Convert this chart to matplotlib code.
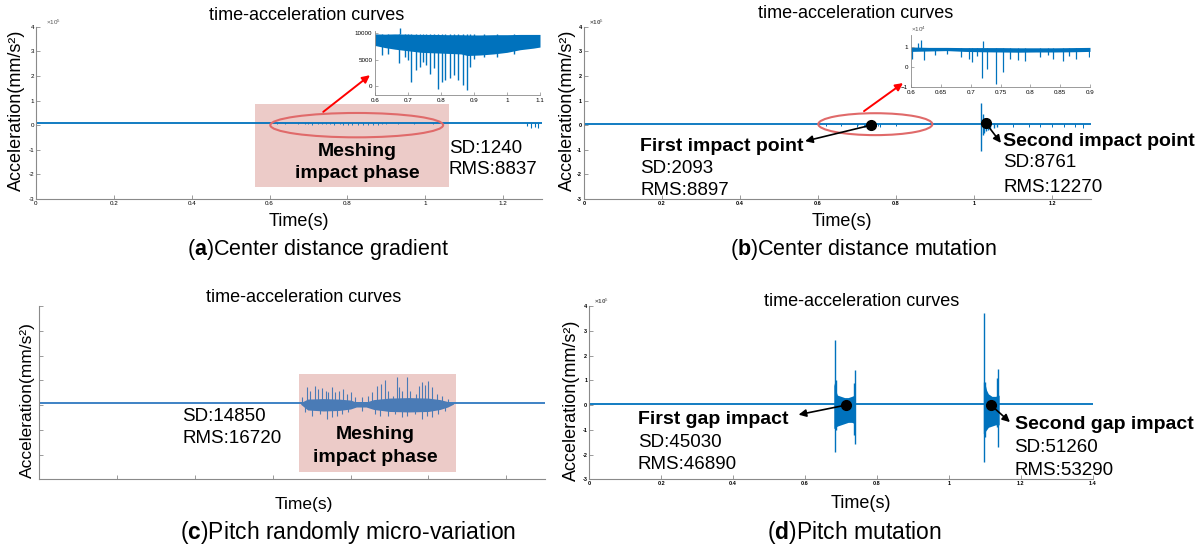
import matplotlib
matplotlib.use('Agg')
import matplotlib.pyplot as plt
from matplotlib.patches import Ellipse, Rectangle

plt.rcParams['font.family'] = ['Liberation Sans', 'DejaVu Sans']
plt.rcParams['mathtext.fontset'] = 'custom'
plt.rcParams['mathtext.rm'] = 'Liberation Sans'
plt.rcParams['mathtext.bf'] = 'Liberation Sans:bold'

# ---- data ----
TITLE = 'time-acceleration curves'
YLABEL = 'Acceleration(mm/s²)'
XLABEL = 'Time(s)'
Y_TICKS = [-3, -2, -1, 0, 1, 2, 3, 4]   # x10^5
X_TICKS = [0, 0.2, 0.4, 0.6, 0.8, 1, 1.2]
X_TICKS_D = [0, 0.2, 0.4, 0.6, 0.8, 1, 1.2, 1.4]

# (a) centre distance gradient, main trace level (x10^5)
A_LEVEL = 0.09
A_DIP_T = [1.262, 1.272, 1.281, 1.29]
A_DIP_V = [-0.05, -0.13, -0.08, -0.11]
# (a) inset, mm/s^2
A_IN_T = [0.60, 0.63, 0.66, 0.70, 0.74, 0.78, 0.82, 0.86, 0.88, 0.92, 0.96, 1.00, 1.04, 1.08, 1.10]
A_IN_HI = [9900, 9850, 9900, 9850, 9800, 9800, 9750, 9750, 9700, 9700, 9750, 9750, 9800, 9800, 9800]
A_IN_LO = [7700, 7300, 7000, 6700, 6400, 6300, 6200, 6100, 5800, 5900, 6100, 6400, 6900, 7200, 7400]
A_SPK_T = [0.62, 0.64, 0.674, 0.69, 0.70, 0.71, 0.724, 0.736, 0.745, 0.755, 0.766, 0.78, 0.79,
           0.802, 0.812, 0.826, 0.84, 0.853, 0.867, 0.879, 0.889, 0.90, 0.93, 0.97, 1.02]
A_SPK_V = [5800, 6000, 4300, 5500, 5000, 800, 3030, 3600, 4500, 4000, 2330, 3500, -480,
           800, 1130, 1440, 2080, 1130, 180, -770, 3600, 5200, 5600, 5500, 6000]
A_UP_T = [0.676]
A_UP_V = [11000]

# (b) centre distance mutation (x10^5)
B_LEVEL = 0.05
B_HIT_T = [1.018, 1.022, 1.026, 1.030, 1.035, 1.042, 1.050, 1.060]
B_HIT_HI = [0.90, 0.45, 0.30, 0.22, 0.15, 0.12, 0.08, 0.06]
B_HIT_LO = [-1.05, -0.40, -0.32, -0.25, -0.20, -0.15, -0.12, -0.08]
B_RIP_T = [0.62, 0.66, 0.70, 0.72, 0.74, 0.76, 0.80, 1.10, 1.14, 1.17, 1.20, 1.23, 1.26, 1.28]
B_RIP_V = [-0.04, -0.05, -0.06, -0.08, -0.09, -0.06, -0.05, -0.07, -0.06, -0.08, -0.07, -0.09, -0.08, -0.1]
# (b) inset, x10^4
B_IN_T = [0.60, 0.63, 0.66, 0.69, 0.72, 0.75, 0.78, 0.81, 0.84, 0.87, 0.90]
B_IN_HI = [1.00, 0.98, 0.98, 0.97, 0.97, 0.97, 0.96, 0.96, 0.96, 0.97, 0.98]
B_IN_LO = [0.78, 0.80, 0.82, 0.78, 0.76, 0.75, 0.74, 0.75, 0.75, 0.76, 0.78]
B_SPK_T = [0.6015, 0.622, 0.64, 0.66, 0.684, 0.697, 0.703, 0.71, 0.7186, 0.7266, 0.7418, 0.7535,
           0.7663, 0.78, 0.7915, 0.816, 0.83, 0.838, 0.855, 0.865, 0.877, 0.898]
B_SPK_V = [0.42, 0.33, 0.60, 0.65, 0.50, 0.42, 0.25, 0.55, -0.55, -0.08, -0.83, -0.25,
           0.42, 0.33, 0.28, 0.50, 0.60, 0.42, 0.28, 0.55, 0.42, 0.50]
B_UP_T = [0.612, 0.6175, 0.7204]
B_UP_V = [1.2, 1.35, 1.3]

# (c) pitch randomly micro-variation
C_LEVEL = 0.07
C_BAND_T = [0.672, 0.69, 0.73, 0.77, 0.80, 0.815, 0.84, 0.86, 0.90, 0.95, 1.00, 1.03, 1.05, 1.065]
C_BAND_HI = [0.10, 0.24, 0.26, 0.24, 0.20, 0.12, 0.12, 0.22, 0.28, 0.30, 0.28, 0.22, 0.14, 0.08]
C_BAND_LO = [0.03, -0.20, -0.24, -0.22, -0.16, -0.08, -0.08, -0.18, -0.26, -0.28, -0.26, -0.18, -0.08, 0.04]
C_TOP_T = [0.676, 0.6873, 0.6959, 0.7087, 0.7173, 0.7259, 0.736, 0.7431, 0.7533, 0.7602, 0.7705,
           0.7816, 0.7902, 0.8013, 0.8116, 0.8288, 0.8441, 0.8562, 0.8673, 0.8785, 0.8888, 0.8973,
           0.9102, 0.9187, 0.9247, 0.9333, 0.9444, 0.953, 0.9676, 0.9762, 0.983, 0.9916, 1.0002,
           1.0088, 1.0216, 1.0345, 1.0516]
C_TOP_V = [0.31, 0.72, 0.58, 0.76, 0.65, 0.68, 0.58, 0.51, 0.72, 0.51, 0.58,
           0.65, 0.45, 0.51, 0.31, 0.31, 0.38, 0.51, 0.78, 0.85, 1.03, 0.58,
           0.38, 1.12, 0.72, 0.58, 1.12, 0.58, 0.45, 0.76, 0.92, 0.81, 0.99,
           0.72, 0.45, 0.38, 0.24]
C_BOT_T = [0.6831, 0.7002, 0.7216, 0.7388, 0.7516, 0.7645, 0.7773, 0.7945, 0.8288, 0.863, 0.8759,
           0.8973, 0.9145, 0.9316, 0.9444, 0.9659, 0.983, 0.9959, 1.0088, 1.0259, 1.0431]
C_BOT_V = [-0.30, -0.43, -0.36, -0.57, -0.50, -0.43, -0.36, -0.30, -0.23, -0.36, -0.43,
           -0.43, -0.36, -0.50, -0.43, -0.36, -0.57, -0.43, -0.50, -0.36, -0.23]

# (d) pitch mutation (x10^5)
D_LEVEL = 0.05
D1_T = [0.680, 0.685, 0.690, 0.700, 0.710, 0.720, 0.730, 0.738]
D1_HI = [0.90, 0.60, 0.40, 0.35, 0.30, 0.30, 0.35, 0.40]
D1_LO = [-0.95, -0.90, -0.85, -0.80, -0.75, -0.70, -0.70, -0.75]
D2_T = [1.096, 1.100, 1.105, 1.110, 1.120, 1.130, 1.140]
D2_HI = [0.93, 0.90, 0.60, 0.45, 0.35, 0.35, 0.40]
D2_LO = [-1.15, -1.10, -1.00, -0.90, -0.85, -0.80, -0.80]
D_SPK_T = [0.682, 0.686, 0.736, 0.740, 1.097, 1.100, 1.133, 1.137]
D_SPK_HI = [2.62, 1.00, 0.90, 1.40, 3.72, 0.93, 1.10, 1.47]
D_SPK_LO = [-1.90, -1.00, -1.20, -1.56, -2.30, -1.30, -0.90, -1.70]

W, H = 1204, 552
BLUE = '#0072BD'
CBLUE = '#4a7bb6'
PINK = '#eccbc8'
ERED = '#e06a6a'
AXC = '#8a8a8a'

fig = plt.figure(figsize=(W / 100, H / 100), dpi=100)


def box(l, t, r, b):
    return [l / W, 1 - b / H, (r - l) / W, (b - t) / H]


def ftext(x, y, s, **kw):
    fig.text(x / W, 1 - y / H, s, ha='center', va='center', **kw)


def style(ax, xt, bold=False, labels=True, size=4.5):
    for s in ['top', 'right']:
        ax.spines[s].set_visible(False)
    for s in ['left', 'bottom']:
        ax.spines[s].set_color(AXC)
        ax.spines[s].set_linewidth(0.8)
    ax.set_xticks(xt)
    ax.set_yticks(Y_TICKS)
    ax.tick_params(direction='in', length=3, width=0.6, color=AXC, labelsize=size, pad=1.5)
    if labels:
        ax.set_xticklabels(['%g' % v for v in xt], fontweight='bold' if bold else 'normal')
        ax.set_yticklabels(['%g' % v for v in Y_TICKS], fontweight='bold' if bold else 'normal')
    else:
        ax.set_xticklabels([])
        ax.set_yticklabels([])


def inset_style(ax):
    for s in ['top', 'right']:
        ax.spines[s].set_visible(False)
    for s in ['left', 'bottom']:
        ax.spines[s].set_color(AXC)
        ax.spines[s].set_linewidth(0.6)
    ax.tick_params(direction='in', length=2, width=0.5, color=AXC, labelsize=4.5, pad=2)


def arrow(ax, start, end, color, lw=1.4):
    ax.annotate('', xy=end, xytext=start, annotation_clip=False,
                arrowprops=dict(arrowstyle='-|>', color=color, lw=lw, mutation_scale=11,
                                shrinkA=0, shrinkB=0))


TXT = dict(fontsize=13.5, clip_on=False)
BTXT = dict(fontsize=14, fontweight='bold', clip_on=False)

# ---------------- (a) ----------------
ax = fig.add_axes(box(36, 26.7, 542, 199))
ax.set_xlim(0, 1.3)
ax.set_ylim(-3, 4)
style(ax, X_TICKS)
ax.add_patch(Rectangle((0.563, -2.52), 1.060 - 0.563, 0.85 + 2.52, color=PINK, zorder=0, lw=0))
ax.plot([0, 1.3], [A_LEVEL, A_LEVEL], color=BLUE, lw=1.3, zorder=2)
ax.vlines(A_SPK_T, [v / 1e5 for v in A_SPK_V], A_LEVEL, color=BLUE, lw=0.6, zorder=2)
ax.vlines(A_DIP_T, A_DIP_V, A_LEVEL, color=BLUE, lw=0.8, zorder=2)
ax.add_patch(Ellipse((0.824, 0.0), 0.444, 0.99, fill=False, ec=ERED, lw=1.5, zorder=3))
arrow(ax, (0.738, 0.54), (0.858, 2.03), 'red')
ax.text(0.825, -1.06, 'Meshing', ha='center', va='center', **BTXT)
ax.text(0.825, -1.95, 'impact phase', ha='center', va='center', **BTXT)
ax.text(1.061, -0.93, 'SD:1240', ha='left', va='center', **TXT)
ax.text(1.061, -1.79, 'RMS:8837', ha='left', va='center', **TXT)
ax.text(0.02, 1.0, r'×10$^5$', transform=ax.transAxes, fontsize=4.5, color='#555555', va='bottom')

ai = fig.add_axes(box(375, 31, 540, 95))
ai.set_xlim(0.6, 1.1)
ai.set_ylim(-1700, 10450)
inset_style(ai)
ai.set_xticks([0.6, 0.7, 0.8, 0.9, 1.0, 1.1])
ai.set_xticklabels(['0.6', '0.7', '0.8', '0.9', '1', '1.1'])
ai.set_yticks([0, 5000, 10000])
ai.fill_between(A_IN_T, A_IN_LO, A_IN_HI, color=BLUE, lw=0)
ai.vlines(A_SPK_T, A_SPK_V, A_IN_HI[0], color=BLUE, lw=1.0)
ai.vlines(A_UP_T, A_IN_HI[0], A_UP_V, color=BLUE, lw=1.0, clip_on=False)

ftext(307, 15, TITLE, fontsize=13)
ftext(16, 110, YLABEL, fontsize=13, rotation=90)
ftext(299, 222, XLABEL, fontsize=13)
ftext(318, 250, r'($\mathbf{a}$)Center distance gradient', fontsize=15.5)

# ---------------- (b) ----------------
bx = fig.add_axes(box(584, 26.7, 1091, 199))
bx.set_xlim(0, 1.3)
bx.set_ylim(-3, 4)
style(bx, X_TICKS, bold=True, size=4)
bx.plot([0, 1.3], [B_LEVEL, B_LEVEL], color=BLUE, lw=1.3, zorder=2)
bx.vlines(B_RIP_T, B_RIP_V, B_LEVEL, color=BLUE, lw=0.7)
bx.vlines(B_HIT_T, B_HIT_LO, B_HIT_HI, color=BLUE, lw=1.0)
bx.vlines(B_SPK_T, [v / 10 for v in B_SPK_V], B_LEVEL, color=BLUE, lw=0.6)
bx.add_patch(Ellipse((0.747, 0.04), 0.2925, 0.89, fill=False, ec=ERED, lw=1.5, zorder=3))
arrow(bx, (0.718, 0.57), (0.818, 1.71), 'red')
bx.plot([0.736, 1.031], [0.0, 0.07], 'o', color='black', ms=7, zorder=5)
arrow(bx, (0.736, 0.0), (0.567, -0.65), 'black', lw=1.2)
arrow(bx, (1.031, 0.07), (1.069, -0.72), 'black', lw=1.2)
bx.text(0.144, -0.85, 'First impact point', ha='left', va='center', **BTXT)
bx.text(0.144, -1.75, 'SD:2093', ha='left', va='center', **TXT)
bx.text(0.144, -2.64, 'RMS:8897', ha='left', va='center', **TXT)
bx.text(1.075, -0.68, 'Second impact point', ha='left', va='center', **BTXT)
bx.text(1.075, -1.53, 'SD:8761', ha='left', va='center', **TXT)
bx.text(1.075, -2.55, 'RMS:12270', ha='left', va='center', **TXT)
bx.text(0.01, 1.0, r'×10$^5$', transform=bx.transAxes, fontsize=4.5, color='#555555',
        fontweight='bold', va='bottom')

bi = fig.add_axes(box(911, 35, 1090, 87))
bi.set_xlim(0.6, 0.9)
bi.set_ylim(-1, 1.6)
inset_style(bi)
bi.set_xticks([0.6, 0.65, 0.7, 0.75, 0.8, 0.85, 0.9])
bi.set_xticklabels(['0.6', '0.65', '0.7', '0.75', '0.8', '0.85', '0.9'])
bi.set_yticks([-1, 0, 1])
bi.fill_between(B_IN_T, B_IN_LO, B_IN_HI, color=BLUE, lw=0)
bi.vlines(B_SPK_T, B_SPK_V, 0.96, color=BLUE, lw=0.9)
bi.vlines(B_UP_T, 0.96, B_UP_V, color=BLUE, lw=0.9)
bi.text(0.0, 1.02, r'×10$^4$', transform=bi.transAxes, fontsize=4.5, color='#555555', va='bottom')

ftext(856, 13, TITLE, fontsize=13)
ftext(567, 110, YLABEL, fontsize=13, rotation=90)
ftext(842, 222, XLABEL, fontsize=13)
ftext(864, 250, r'($\mathbf{b}$)Center distance mutation', fontsize=15.5)

# ---------------- (c) ----------------
cx = fig.add_axes(box(39.3, 306, 545, 479.3))
cx.set_xlim(0, 1.3)
cx.set_ylim(-3, 4)
style(cx, X_TICKS, labels=False)
cx.add_patch(Rectangle((0.668, -2.71), 1.071 - 0.668, 1.24 + 2.71, color=PINK, zorder=0, lw=0))
cx.plot([0, 1.3], [C_LEVEL, C_LEVEL], color='#2f78c0', lw=1.3, zorder=2)
cx.fill_between(C_BAND_T, C_BAND_LO, C_BAND_HI, color=CBLUE, lw=0, zorder=2)
cx.vlines(C_TOP_T, C_LEVEL, C_TOP_V, color=CBLUE, lw=0.8, zorder=2)
cx.vlines(C_BOT_T, C_BOT_V, C_LEVEL, color=CBLUE, lw=0.8, zorder=2)
cx.text(0.367, -0.46, 'SD:14850', ha='left', va='center', **TXT)
cx.text(0.367, -1.36, 'RMS:16720', ha='left', va='center', **TXT)
cx.text(0.863, -1.19, 'Meshing', ha='center', va='center', **BTXT)
cx.text(0.863, -2.10, 'impact phase', ha='center', va='center', **BTXT)

ftext(304, 298, TITLE, fontsize=13)
ftext(27, 400, YLABEL, fontsize=12.5, rotation=90)
ftext(304, 504, XLABEL, fontsize=12.5)
ftext(348, 533, r'($\mathbf{c}$)Pitch randomly micro-variation', fontsize=16.5)

# ---------------- (d) ----------------
dx = fig.add_axes(box(589.4, 306, 1092.6, 479.3))
dx.set_xlim(0, 1.4)
dx.set_ylim(-3, 4)
style(dx, X_TICKS_D, bold=True, size=4)
dx.plot([0, 1.4], [D_LEVEL, D_LEVEL], color=BLUE, lw=1.3, zorder=2)
dx.fill_between(D1_T, D1_LO, D1_HI, color=BLUE, lw=0)
dx.fill_between(D2_T, D2_LO, D2_HI, color=BLUE, lw=0)
dx.vlines(D_SPK_T, D_SPK_LO, D_SPK_HI, color=BLUE, lw=1.0)
dx.plot([0.715, 1.117], [0.0, 0.0], 'o', color='black', ms=7, zorder=5)
arrow(dx, (0.715, 0.0), (0.582, -0.39), 'black', lw=1.2)
arrow(dx, (1.117, 0.0), (1.17, -0.69), 'black', lw=1.2)
dx.text(0.135, -0.58, 'First gap impact', ha='left', va='center', **BTXT)
dx.text(0.135, -1.50, 'SD:45030', ha='left', va='center', **TXT)
dx.text(0.135, -2.41, 'RMS:46890', ha='left', va='center', **TXT)
dx.text(1.183, -0.79, 'Second gap impact', ha='left', va='center', **BTXT)
dx.text(1.183, -1.70, 'SD:51260', ha='left', va='center', **TXT)
dx.text(1.183, -2.64, 'RMS:53290', ha='left', va='center', **TXT)
dx.text(0.01, 1.0, r'×10$^5$', transform=dx.transAxes, fontsize=4.5, color='#555555',
        fontweight='bold', va='bottom')

ftext(862, 302, TITLE, fontsize=13)
ftext(571, 400, YLABEL, fontsize=13, rotation=90)
ftext(861, 503, XLABEL, fontsize=13)
ftext(854, 533, r'($\mathbf{d}$)Pitch mutation', fontsize=16.5)

fig.savefig('out.png', dpi=100)
